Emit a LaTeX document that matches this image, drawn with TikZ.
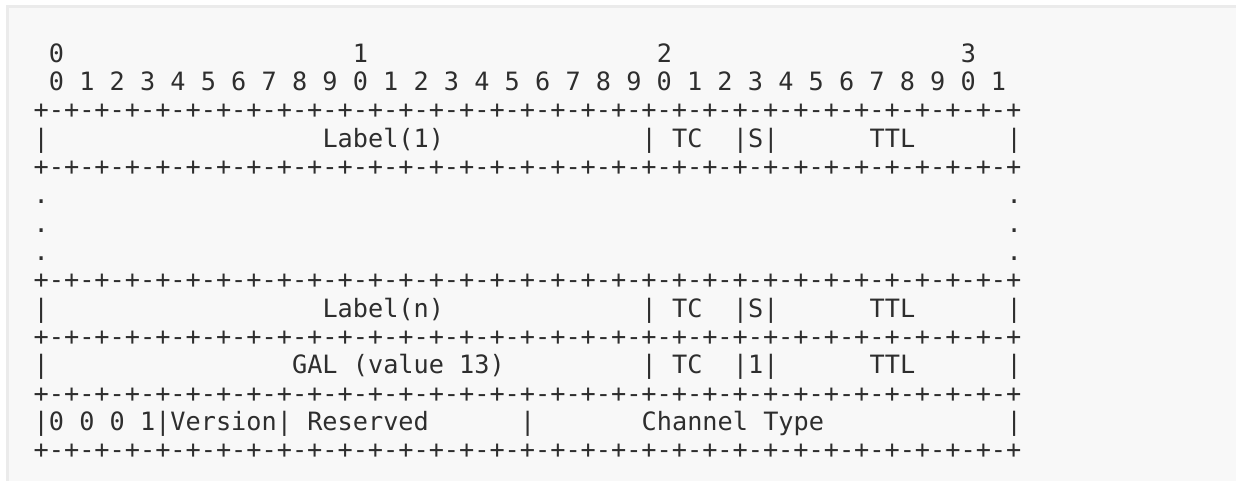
\documentclass[tikz,border=0pt]{standalone}
\usepackage{fontspec}
\setmonofont{DejaVu Sans Mono}
\definecolor{pagebg}{HTML}{F8F8F8}
\definecolor{pageline}{HTML}{EBEBEB}
\definecolor{ink}{HTML}{2E2E2E}
\tikzset{
  txt/.style={inner sep=0pt, outer sep=0pt, anchor=base west, text=ink,
    font=\ttfamily\fontsize{12.62}{14}\selectfont},
}
\newcommand\cell[4]{\node[txt] (#1) at ({33.7+15.2*(#2)},{118.7+28.33*((#3)-2)}) {#4};}
\newcommand\sepline{+-+-+-+-+-+-+-+-+-+-+-+-+-+-+-+-+-+-+-+-+-+-+-+-+-+-+-+-+-+-+-+-+}
\begin{document}
\begin{tikzpicture}[x=0.5pt,y=-0.5pt]
\useasboundingbox (0,0) rectangle (1236,481);
\fill[white] (0,0) rectangle (1236,481);
\draw[pageline, fill=pagebg, line width=1.5pt] (7,7) rectangle (1250,500);
% bit numbering
\cell{t0}{1}{0}{0}
\cell{t1}{21}{0}{1}
\cell{t2}{41}{0}{2}
\cell{t3}{61}{0}{3}
\cell{bits}{1}{1}{0 1 2 3 4 5 6 7 8 9 0 1 2 3 4 5 6 7 8 9 0 1 2 3 4 5 6 7 8 9 0 1}
% separators
\cell{s2}{0}{2}{\sepline}
\cell{s4}{0}{4}{\sepline}
\cell{s8}{0}{8}{\sepline}
\cell{s10}{0}{10}{\sepline}
\cell{s12}{0}{12}{\sepline}
\cell{s14}{0}{14}{\sepline}
% Label(1)
\cell{a0}{0}{3}{|}
\cell{a1}{19}{3}{Label(1)}
\cell{a2}{40}{3}{|}
\cell{a3}{42}{3}{TC}
\cell{a4}{46}{3}{|S|}
\cell{a5}{55}{3}{TTL}
\cell{a6}{64}{3}{|}
% dots
\cell{d5l}{0}{5}{.}
\cell{d5r}{64}{5}{.}
\cell{d6l}{0}{6}{.}
\cell{d6r}{64}{6}{.}
\cell{d7l}{0}{7}{.}
\cell{d7r}{64}{7}{.}
% Label(n)
\cell{b0}{0}{9}{|}
\cell{b1}{19}{9}{Label(n)}
\cell{b2}{40}{9}{|}
\cell{b3}{42}{9}{TC}
\cell{b4}{46}{9}{|S|}
\cell{b5}{55}{9}{TTL}
\cell{b6}{64}{9}{|}
% GAL
\cell{c0}{0}{11}{|}
\cell{c1}{17}{11}{GAL (value 13)}
\cell{c2}{40}{11}{|}
\cell{c3}{42}{11}{TC}
\cell{c4}{46}{11}{|1|}
\cell{c5}{55}{11}{TTL}
\cell{c6}{64}{11}{|}
% ACH
\cell{e0}{0}{13}{|0 0 0 1|Version|}
\cell{e1}{18}{13}{Reserved}
\cell{e2}{32}{13}{|}
\cell{e3}{40}{13}{Channel Type}
\cell{e4}{64}{13}{|}
\end{tikzpicture}
\end{document}
